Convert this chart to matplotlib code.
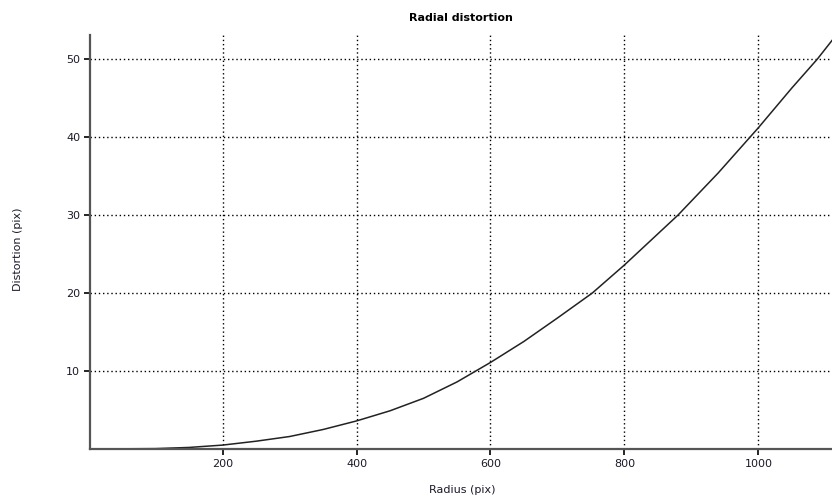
import numpy as np
import matplotlib.pyplot as plt

# radius (pix) vs radial distortion (pix)
radius = [10, 100, 150, 200, 250, 300, 350, 400, 450, 500, 550, 600, 650,
          700, 752, 800, 880, 940, 1000, 1050, 1088, 1110]
distortion = [0.0, 0.05, 0.2, 0.5, 1.0, 1.6, 2.5, 3.6, 4.9, 6.5, 8.6, 11.1,
              13.8, 16.8, 20.0, 23.6, 30.0, 35.4, 41.2, 46.3, 50.0, 52.4]

xticks = [200, 400, 600, 800, 1000]
yticks = [10, 20, 30, 40, 50]

plt.rcParams['font.family'] = ['DejaVu Sans']

fig = plt.figure(figsize=(8.32, 4.98), dpi=100)
ax = fig.add_axes([0.1082, 0.0984, 0.8918, 0.8313])

ax.plot(radius, distortion, color='#222222', lw=1.1)

ax.set_xlim(2, 1110)
ax.set_ylim(0, 53.1)
ax.set_xticks(xticks)
ax.set_yticks(yticks)
ax.grid(True, color='black', linestyle=(0, (1, 2)), linewidth=1)

for s in ['top', 'right']:
    ax.spines[s].set_visible(False)
for s in ['left', 'bottom']:
    ax.spines[s].set_color('#555555')
    ax.spines[s].set_linewidth(1.6)

ax.tick_params(length=4, width=1.2, color='black', labelsize=8, pad=3,
               labelcolor='#1a1a2a')

ax.set_title('Radial distortion', fontsize=8, fontweight='bold', pad=10)
fig.text(0.0216, 0.5, 'Distortion (pix)', rotation=90, fontsize=8,
         ha='center', va='center', color='#1a1a2a')
fig.text(0.555, 0.016, 'Radius (pix)', fontsize=8, ha='center',
         va='center', color='#1a1a2a')

fig.savefig('out.png', dpi=100)
